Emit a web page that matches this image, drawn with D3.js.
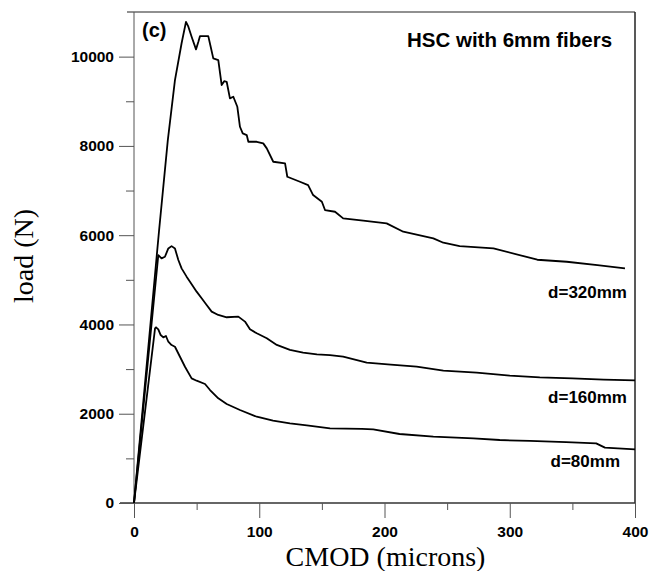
<!DOCTYPE html>
<html>
<head>
<meta charset="utf-8">
<style>
  body { margin: 0; background: #fff; }
  svg { display: block; }
  .tick text { font-family: "Liberation Sans", Arial, sans-serif; font-weight: bold; font-size: 15.5px; fill: #000; }
  .title { font-family: "Liberation Serif", "Times New Roman", serif; font-size: 28px; fill: #000; }
  .note { font-family: "Liberation Sans", Arial, sans-serif; font-weight: bold; fill: #000; }
</style>
<script src="https://d3js.org/d3.v7.min.js"></script>
</head>
<body>
<svg width="650" height="571"></svg>
<script>
// tick values
var xTicks = [0, 100, 200, 300, 400];
var xMinor = [50, 150, 250, 350];
var yTicks = [0, 2000, 4000, 6000, 8000, 10000];
var yMinor = [1000, 3000, 5000, 7000, 9000];

// d = 320 mm
var cmod320 = [0, 20, 27, 32.7, 38, 41.5, 43.4, 46, 49.5, 51.4, 52.7, 59.3, 61, 63.3, 67.3, 70, 72, 74, 76.6, 79.3,
  82.5, 84.6, 86.8, 90, 91.3, 98, 103.2, 106, 111.2, 120.6, 122.4, 132.5, 139, 143, 150, 152.5, 160.5, 167, 183,
  201.7, 215, 239, 247, 260, 287, 322, 345.5, 370, 392];
var load320 = [0, 6100, 8130, 9475, 10300, 10780, 10670, 10445, 10163, 10333, 10460, 10460, 10250, 9960, 9923, 9363,
  9450, 9437, 9065, 9102, 8877, 8429, 8281, 8243, 8093, 8093, 8057, 7945, 7645, 7609, 7309, 7197, 7123, 6899, 6749,
  6563, 6525, 6377, 6324, 6265, 6077, 5929, 5831, 5757, 5705, 5450, 5405, 5330, 5257];

// d = 160 mm
var cmod160 = [0, 19.4, 22, 24.7, 27.4, 30, 32.7, 35.4, 38, 42, 44.7, 50, 54, 58, 62, 67.3, 74, 83.3, 88.6, 92.6, 98,
  106, 114, 124.5, 135, 146, 156.5, 167, 185.8, 205, 225.7, 247, 273.6, 300, 324, 350, 375, 400];
var load160 = [0, 5555, 5480, 5517, 5703, 5755, 5703, 5443, 5257, 5071, 4959, 4735, 4586, 4437, 4288, 4213, 4161,
  4176, 4064, 3891, 3802, 3691, 3541, 3429, 3370, 3330, 3315, 3277, 3143, 3100, 3053, 2964, 2919, 2855, 2815, 2790,
  2765, 2745];

// d = 80 mm
var cmod80 = [0, 16.8, 17.6, 19.4, 21.3, 23.4, 25.5, 27.4, 30, 32.7, 36.7, 40.7, 46, 50, 56.7, 60.7, 67.3, 74, 84.6,
  98, 111, 124.5, 138, 156.5, 182, 191, 212, 239, 271, 292, 316, 345, 369, 376, 400];
var load80 = [0, 3913, 3936, 3891, 3763, 3711, 3741, 3613, 3539, 3501, 3277, 3053, 2793, 2740, 2666, 2531, 2345,
  2218, 2083, 1933, 1844, 1785, 1740, 1673, 1660, 1651, 1546, 1485, 1449, 1411, 1390, 1362, 1337, 1240, 1200];

var seriesNames = ["d=320mm", "d=160mm", "d=80mm"];

var svg = d3.select("svg");

var x = d3.scaleLinear().domain([0, 400]).range([134, 635]);
var y = d3.scaleLinear().domain([0, 11000]).range([503, 12]);

// frame
var frame = svg.append("g").attr("fill", "none");
frame.append("line").attr("x1", 127).attr("x2", x(400)).attr("y1", y(11000)).attr("y2", y(11000))
  .attr("stroke", "#222").attr("stroke-width", 1.2);
frame.append("line").attr("x1", x(400)).attr("x2", x(400)).attr("y1", y(11000)).attr("y2", y(0))
  .attr("stroke", "#222").attr("stroke-width", 1.5);
frame.append("line").attr("x1", 120).attr("x2", x(400)).attr("y1", y(0)).attr("y2", y(0))
  .attr("stroke", "#333").attr("stroke-width", 1.5);
frame.append("line").attr("x1", x(0)).attr("x2", x(0)).attr("y1", y(11000)).attr("y2", y(0))
  .attr("stroke", "#555").attr("stroke-width", 1);

// axes
var xAxis = svg.append("g").attr("transform", "translate(0," + y(0) + ")")
  .call(d3.axisBottom(x).tickValues(xTicks).tickSize(15).tickPadding(8).tickFormat(d3.format("d")));
var xAxisMinor = svg.append("g").attr("transform", "translate(0," + y(0) + ")")
  .call(d3.axisBottom(x).tickValues(xMinor).tickSize(7).tickFormat(""));
var yAxis = svg.append("g").attr("transform", "translate(" + x(0) + ",0)")
  .call(d3.axisLeft(y).tickValues(yTicks).tickSize(15).tickPadding(5).tickFormat(d3.format("d")));
var yAxisMinor = svg.append("g").attr("transform", "translate(" + x(0) + ",0)")
  .call(d3.axisLeft(y).tickValues(yMinor).tickSize(8).tickFormat(""));

svg.selectAll(".domain").remove();
svg.selectAll(".tick line").attr("stroke", "#555").attr("stroke-width", 1);
xAxis.selectAll(".tick text").attr("dy", "0.71em");

// curves
var line = d3.line()
  .x(function(d) { return x(d[0]); })
  .y(function(d) { return y(d[1]); });

var curves = [d3.zip(cmod320, load320), d3.zip(cmod160, load160), d3.zip(cmod80, load80)];

svg.append("g").selectAll("path")
  .data(curves)
  .enter().append("path")
    .attr("d", line)
    .attr("fill", "none")
    .attr("stroke", "#000")
    .attr("stroke-width", 1.8)
    .attr("stroke-linejoin", "round");

// labels
var labelPos = [[627, 298], [627, 403], [620, 467]];
svg.append("g").selectAll("text")
  .data(seriesNames)
  .enter().append("text")
    .attr("class", "note")
    .attr("x", function(d, i) { return labelPos[i][0]; })
    .attr("y", function(d, i) { return labelPos[i][1]; })
    .attr("text-anchor", "end")
    .attr("font-size", 17)
    .text(function(d) { return d; });

svg.append("text").attr("class", "note").attr("x", 142).attr("y", 37)
  .attr("font-size", 20).text("(c)");
svg.append("text").attr("class", "note").attr("x", 407).attr("y", 47)
  .attr("font-size", 20.5).text("HSC with 6mm fibers");

svg.append("text").attr("class", "title").attr("x", 385.5).attr("y", 566)
  .attr("text-anchor", "middle").text("CMOD (microns)");
svg.append("text").attr("class", "title")
  .attr("transform", "translate(33,256) rotate(-90)")
  .attr("text-anchor", "middle").text("load (N)");
</script>
</body>
</html>
